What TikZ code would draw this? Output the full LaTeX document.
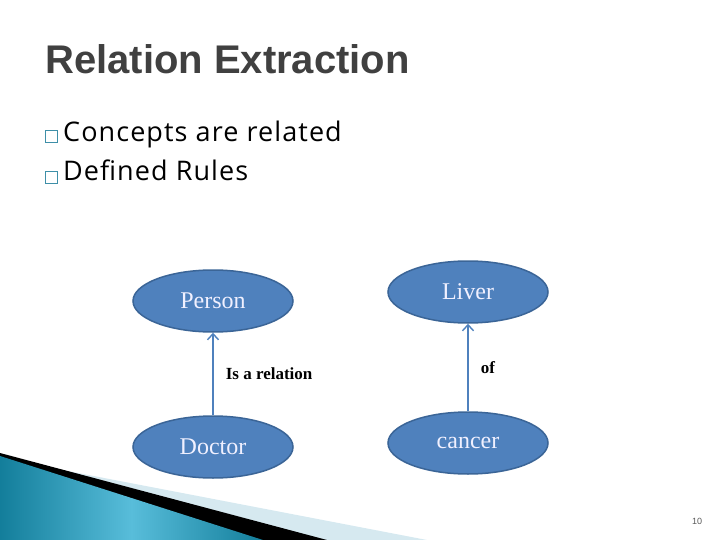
\documentclass[tikz,border=0pt]{standalone}
\usepackage{fontspec}
\setmainfont{Liberation Serif}
\setsansfont{Liberation Sans}
\newfontfamily\bulletfont[LetterSpace=4]{Open Sans}
\usepackage{tikz}
\usetikzlibrary{shapes.geometric,positioning,arrows.meta}
\definecolor{conceptblue}{HTML}{4F81BD}
\definecolor{conceptedge}{HTML}{3B6597}
\definecolor{titlegray}{HTML}{404040}
\definecolor{bulletteal}{HTML}{3E8FA8}
\definecolor{decoteal}{HTML}{137E9B}
\definecolor{decolight}{HTML}{58BDDA}
\definecolor{decopale}{HTML}{D6E9F0}
\tikzset{
	concept/.style={ellipse,draw=conceptedge,line width=1.5pt,fill=conceptblue,
		minimum width=160pt,minimum height=62pt,inner sep=0pt,
		text=white!94!blue,font=\fontsize{24}{28}\selectfont},
	rel/.style={draw=conceptblue,line width=1.6pt,-{Straight Barb[length=6pt,width=11pt,line width=1.4pt]}},
	rellabel/.style={inner sep=0pt,font=\fontsize{17}{20}\selectfont\bfseries},
	bulletbox/.style={draw=bulletteal,line width=0.7pt,minimum size=12pt,inner sep=0pt},
	bullettext/.style={anchor=base west,inner sep=0pt,font=\bulletfont\fontsize{27}{32}\selectfont}
}

\begin{document}
\begin{tikzpicture}[x=1pt,y=-1pt]
	\useasboundingbox (0,0) rectangle (720,540);
	
	%Decoration en bas a gauche
	\coordinate (P0) at (0,458);
	\coordinate (P1) at (427,540);
	\coordinate (B0) at (0,453);
	\coordinate (B1) at (327,540);
	\coordinate (T0) at (0,456);
	\coordinate (T1) at (263,540);
	\coordinate (O) at (0,540);
	\fill[decopale] (P0) -- (P1) -- (O) -- cycle;
	\fill[black] (B0) -- (B1) -- (O) -- cycle;
	\shade[left color=decoteal,right color=decoteal,middle color=decolight] (T0) -- (T1) -- (O) -- cycle;
	
	%Titre et liste
	\node[anchor=base west,inner sep=0pt,text=titlegray,font=\sffamily\bfseries\fontsize{40}{48}\selectfont] (title) at (45,74) {Relation Extraction};
	\node[bulletbox] (bulA) at (51,136) {};
	\node[bulletbox] (bulB) at (51,177) {};
	\node[bullettext] (itemA) at (63,142) {Concepts are related};
	\node[bullettext] (itemB) at (63,181) {Defined Rules};
	
	%Concepts
	\node[concept] (person) at (213,301) {Person};
	\node[concept] (doctor) at (213,447) {Doctor};
	\node[concept] (liver) at (468,292) {Liver};
	\node[concept] (cancer) at (468,443) {cancer};
	
	%Relations
	\draw[rel] (doctor) -- node[rellabel,right=12pt] {Is a relation} (person);
	\draw[rel] (cancer) -- node[rellabel,right=12pt] {of} (liver);
	
	\node[font=\sffamily\fontsize{9}{10}\selectfont,text=black!65] (pagenum) at (697,521) {10};
\end{tikzpicture}
\end{document}
